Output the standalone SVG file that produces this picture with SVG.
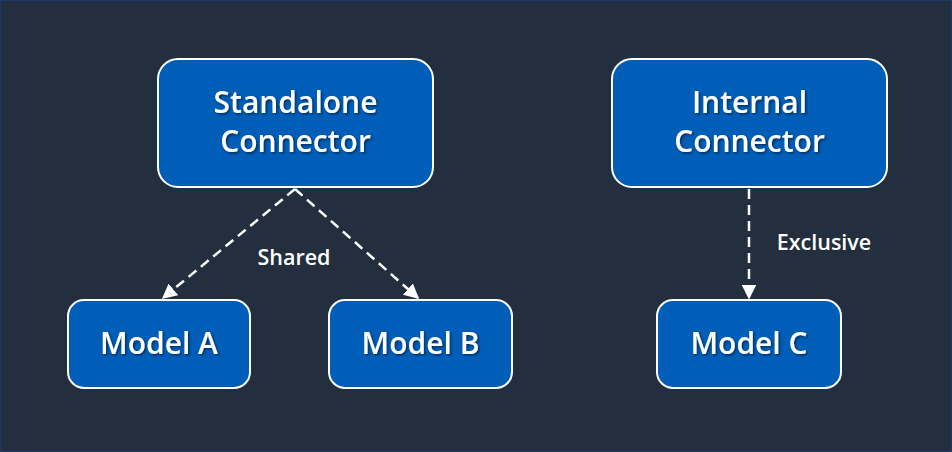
<svg xmlns="http://www.w3.org/2000/svg" width="952" height="452" viewBox="0 0 952 452">
  <style>
    .node { fill: #005EB8; stroke: #FFFFFF; stroke-width: 2; }
    .label { font-family: "Open Sans", "Noto Sans", "DejaVu Sans", sans-serif; font-size: 30px; font-weight: 600; fill: #FFFFFF; text-anchor: middle; filter: url(#shadow); }
    .edge { stroke: #FFFFFF; stroke-width: 2.5; stroke-dasharray: 10 6; fill: none; }
    .elabel { font-family: "Open Sans", "Noto Sans", "DejaVu Sans", sans-serif; font-size: 21.5px; font-weight: 600; fill: #FFFFFF; text-anchor: middle; }
  </style>
  <defs>
    <filter id="shadow" x="-10%" y="-20%" width="120%" height="150%">
      <feDropShadow dx="1.5" dy="1.5" stdDeviation="1" flood-color="#000000" flood-opacity="0.5"/>
    </filter>
    <marker id="arrow" viewBox="0 0 10 10" refX="9" refY="5" markerWidth="6" markerHeight="6" orient="auto" markerUnits="strokeWidth">
      <path d="M0,0 L10,5 L0,10 Z" fill="#FFFFFF"/>
    </marker>
  </defs>
  <rect x="0" y="0" width="952" height="452" fill="#232F3E"/>
  <rect x="0.5" y="0.5" width="951" height="451" fill="none" stroke="#1B3A6B" stroke-width="1"/>

  <g id="connectors">
    <path class="edge" d="M295,189 L163,298" marker-end="url(#arrow)"/>
    <path class="edge" d="M295,189 L418,298" marker-end="url(#arrow)"/>
    <path class="edge" d="M749,189 L749,298" marker-end="url(#arrow)"/>
    <text class="elabel" x="294" y="265">Shared</text>
    <text class="elabel" x="824" y="250">Exclusive</text>
  </g>

  <g id="standalone-connector">
    <rect class="node" x="158" y="59" width="275" height="128" rx="20"/>
    <text class="label" x="295.5" y="113">Standalone</text>
    <text class="label" x="295.5" y="152">Connector</text>
  </g>
  <g id="internal-connector">
    <rect class="node" x="612" y="59" width="275" height="128" rx="20"/>
    <text class="label" x="749.5" y="113">Internal</text>
    <text class="label" x="749.5" y="152">Connector</text>
  </g>
  <g id="model-a">
    <rect class="node" x="68" y="300" width="182" height="88" rx="16"/>
    <text class="label" x="159" y="354">Model A</text>
  </g>
  <g id="model-b">
    <rect class="node" x="329" y="300" width="183" height="88" rx="16"/>
    <text class="label" x="420.5" y="354">Model B</text>
  </g>
  <g id="model-c">
    <rect class="node" x="657" y="300" width="184" height="88" rx="16"/>
    <text class="label" x="749" y="354">Model C</text>
  </g>
</svg>
